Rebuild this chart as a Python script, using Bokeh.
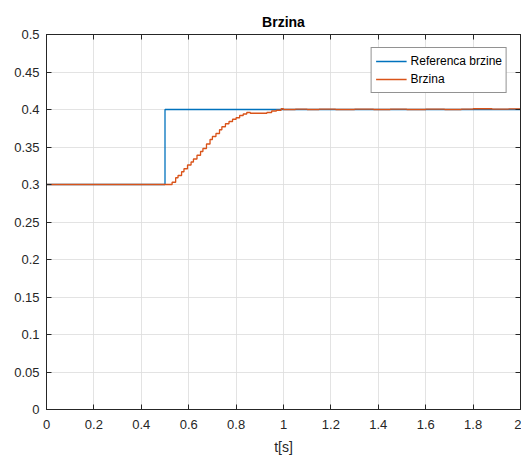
from bokeh.plotting import figure
from bokeh.models import FixedTicker, LinearAxis, Legend, LegendItem, Range1d
from bokeh.embed import file_html
from bokeh.resources import INLINE

# --- data ---
t_ref = [0.0, 0.5, 0.5, 2.0]
v_ref = [0.3, 0.3, 0.4, 0.4]

t_spd = [0.0, 0.52, 0.53, 0.545, 0.555, 0.57, 0.58, 0.595, 0.61, 0.62, 0.635, 0.65,
         0.66, 0.675, 0.69, 0.70, 0.715, 0.73, 0.74, 0.755, 0.77, 0.785, 0.80, 0.815,
         0.83, 0.845, 0.86, 0.90, 0.93, 0.95, 0.97, 0.99, 1.0, 1.05, 1.1, 1.15, 1.22,
         1.3, 1.38, 1.45, 1.52, 1.6, 1.68, 1.75, 1.8, 1.88, 1.95, 2.0]
v_spd = [0.3, 0.3, 0.303, 0.309, 0.312, 0.317, 0.321, 0.326, 0.330, 0.334, 0.339, 0.344,
         0.348, 0.354, 0.360, 0.364, 0.368, 0.373, 0.377, 0.381, 0.384, 0.387, 0.389, 0.392,
         0.394, 0.396, 0.395, 0.395, 0.396, 0.398, 0.399, 0.401, 0.400, 0.4005, 0.400, 0.4005, 0.400,
         0.4005, 0.400, 0.4005, 0.400, 0.4005, 0.400, 0.4005, 0.401, 0.4005, 0.4008, 0.4008]

x_ticks = [0, 0.2, 0.4, 0.6, 0.8, 1.0, 1.2, 1.4, 1.6, 1.8, 2.0]
x_labels = ["0", "0.2", "0.4", "0.6", "0.8", "1", "1.2", "1.4", "1.6", "1.8", "2"]
y_ticks = [0, 0.05, 0.1, 0.15, 0.2, 0.25, 0.3, 0.35, 0.4, 0.45, 0.5]
y_labels = ["0", "0.05", "0.1", "0.15", "0.2", "0.25", "0.3", "0.35", "0.4", "0.45", "0.5"]

title_text = "Brzina"
x_label = "t[s]"
series_names = ["Referenca brzine", "Brzina"]

FONT = "Liberation Sans"
AX = "#262626"

p = figure(width=521, height=457, output_backend="svg", toolbar_location=None,
           x_range=Range1d(0, 2), y_range=Range1d(0, 0.5),
           min_border_left=46, min_border_right=1, min_border_top=34, min_border_bottom=10)

p.title.text = title_text
p.title.align = "center"
p.title.text_font = FONT
p.title.text_font_size = "14px"
p.title.text_color = "#000000"
p.title.text_font_style = "bold"

p.outline_line_color = AX
p.outline_line_width = 1

for ax in [p.xaxis[0], p.yaxis[0]]:
    ax.axis_line_color = AX
    ax.major_tick_line_color = AX
    ax.major_tick_in = 5
    ax.major_tick_out = 0
    ax.minor_tick_line_color = None
    ax.major_label_text_font = FONT
    ax.major_label_text_font_size = "13px"
    ax.major_label_text_color = AX

p.xaxis[0].ticker = FixedTicker(ticks=x_ticks)
p.xaxis[0].major_label_overrides = {t: l for t, l in zip(x_ticks, x_labels)}
p.xaxis[0].major_label_standoff = 10
p.xaxis[0].axis_label = x_label
p.xaxis[0].axis_label_text_font = FONT
p.xaxis[0].axis_label_text_font_size = "14px"
p.xaxis[0].axis_label_text_font_style = "normal"
p.xaxis[0].axis_label_text_color = AX
p.xaxis[0].axis_label_standoff = 7

p.yaxis[0].ticker = FixedTicker(ticks=y_ticks)
p.yaxis[0].major_label_overrides = {t: l for t, l in zip(y_ticks, y_labels)}
p.yaxis[0].major_label_standoff = 7

for loc, tk in [("above", x_ticks), ("right", y_ticks)]:
    a = LinearAxis(ticker=FixedTicker(ticks=tk))
    a.axis_line_color = AX
    a.major_tick_line_color = AX
    a.major_tick_in = 5
    a.major_tick_out = 0
    a.minor_tick_line_color = None
    a.major_label_text_font_size = "1px"
    a.major_label_text_color = None
    a.major_label_standoff = 0
    p.add_layout(a, loc)

p.xgrid.ticker = FixedTicker(ticks=x_ticks)
p.ygrid.ticker = FixedTicker(ticks=y_ticks)
p.grid.grid_line_color = "#dcdcdc"
p.grid.grid_line_alpha = 0.8

r1 = p.line(t_ref, v_ref, line_color="#0072BD", line_width=1.3)
r2 = p.step(t_spd, v_spd, mode="after", line_color="#D95319", line_width=1.3)

legend = Legend(items=[LegendItem(label=series_names[0], renderers=[r1]),
                       LegendItem(label=series_names[1], renderers=[r2])],
                location="top_right")
legend.margin = 13
legend.padding = 4
legend.spacing = 0
legend.glyph_width = 31
legend.glyph_height = 18
legend.label_height = 18
legend.label_standoff = 4
legend.label_text_font = FONT
legend.label_text_font_size = "12px"
legend.label_text_color = "#000000"
legend.border_line_color = AX
legend.border_line_width = 1
legend.background_fill_color = "white"
legend.background_fill_alpha = 1
p.add_layout(legend, "center")

open("out.html", "w").write(file_html(p, INLINE))
